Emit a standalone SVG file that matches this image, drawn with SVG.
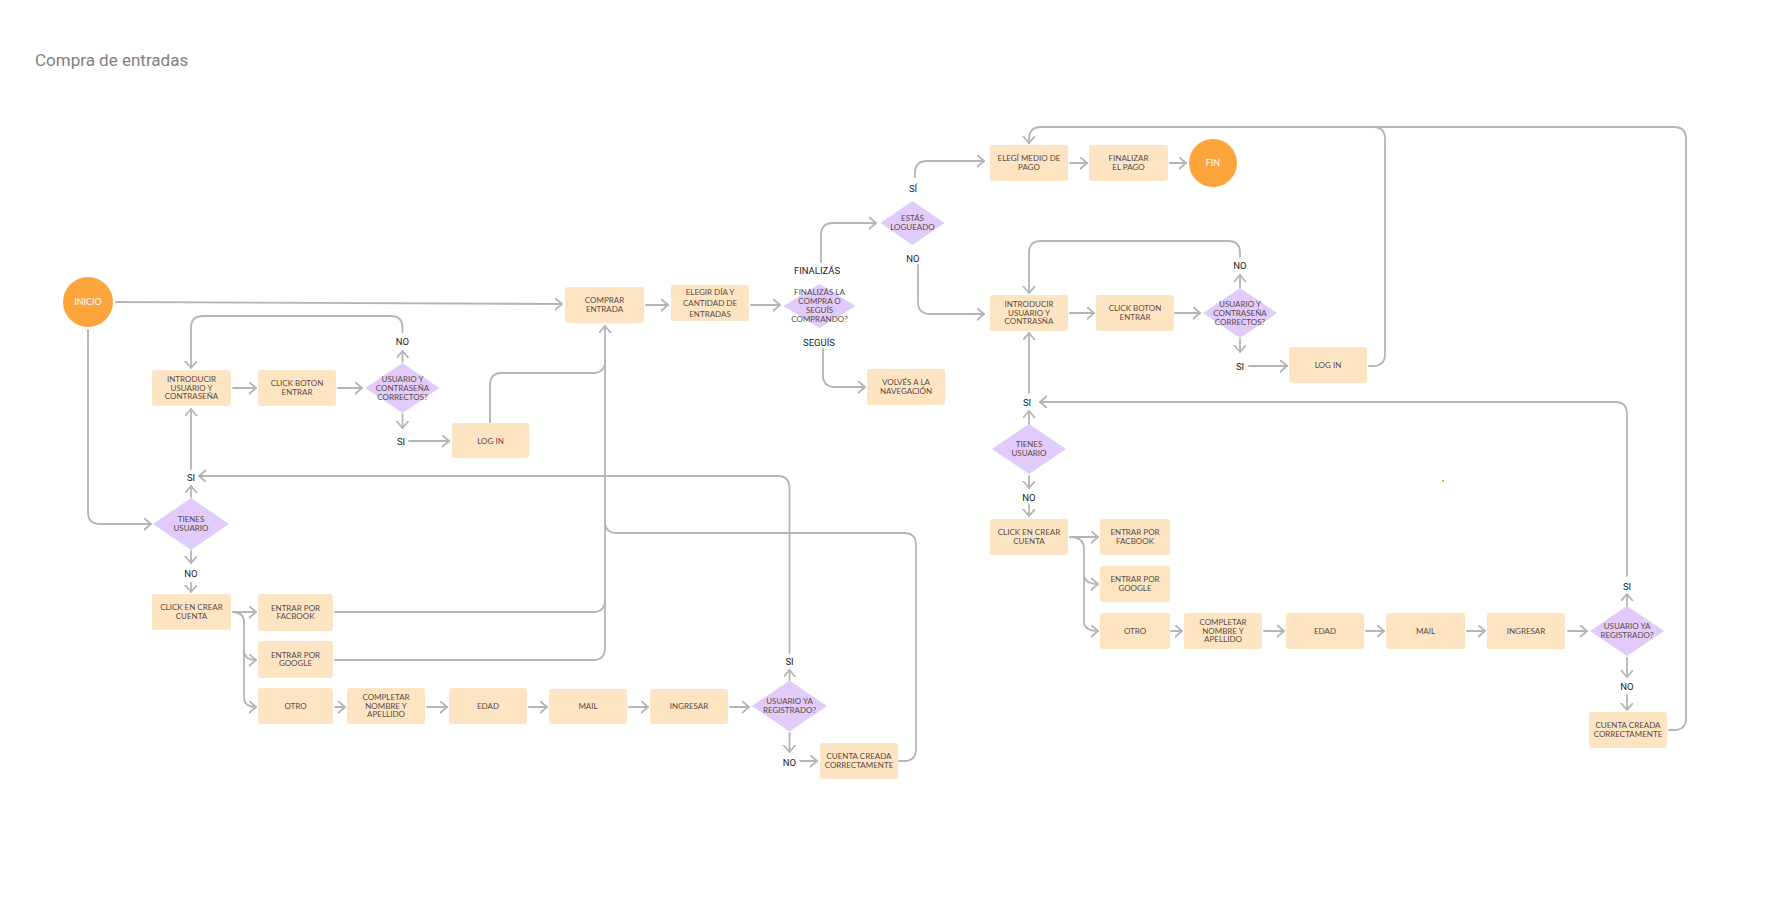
<svg xmlns="http://www.w3.org/2000/svg" width="1786" height="905" viewBox="0 0 1786 905">
<style>
.bg{fill:#ffffff}
.box{fill:#fde5c4}
.dia{fill:#e0cbfb}
.circ{fill:#fca53c}
.t{font-family:Lato,"Liberation Sans",sans-serif;font-size:8px;fill:#5c4b42;text-anchor:middle}
.tw{font-family:Lato,"Liberation Sans",sans-serif;font-size:9px;fill:#ffffff;text-anchor:middle}
.lbl{font-family:Roboto,"Liberation Sans",sans-serif;font-size:9.5px;fill:#222222;text-anchor:middle}
.title{font-family:Roboto,"Liberation Sans",sans-serif;font-size:17px;fill:#808080}
.ln{fill:none;stroke:#b5b5b5;stroke-width:1.8;stroke-linejoin:round;stroke-linecap:round}
.ar{marker-end:url(#arr)}
</style>
<defs>
<marker id="arr" markerUnits="userSpaceOnUse" markerWidth="12" markerHeight="14" refX="7" refY="6" orient="auto" viewBox="0 0 12 14">
<path d="M0,0 L7,6 L0,12" fill="none" stroke="#b5b5b5" stroke-width="1.8" stroke-linecap="round" stroke-linejoin="round"/>
</marker>
</defs>
<rect class="bg" x="0" y="0" width="1786" height="905"/>
<text class="title" x="35" y="66">Compra de entradas</text>

<g id="connectors">
<path class="ln ar" d="M116,302 L562,304"/>
<path class="ln ar" d="M88,330 L88,512 Q88,524 100,524 L151,524"/>
<path class="ln ar" d="M191,497 L191,486"/>
<path class="ln ar" d="M191,469 L191,409"/>
<path class="ln ar" d="M233,388 L256,388"/>
<path class="ln ar" d="M338,388 L362,388"/>
<path class="ln ar" d="M402.5,362 L402.5,351"/>
<path class="ln ar" d="M402.5,332 L402.5,328 Q402.5,316 390.5,316 L203,316 Q191,316 191,328 L191,368"/>
<path class="ln ar" d="M402.5,414 L402.5,428"/>
<path class="ln ar" d="M409,441 L449,441"/>
<path class="ln ar" d="M490,423 L490,385 Q490,373 502,373 L593,373 Q605,373 605,361 L605,326"/>
<path class="ln" d="M335,612 L593,612 Q605,612 605,600 L605,360"/>
<path class="ln" d="M335,660 L593,660 Q605,660 605,648 L605,600"/>
<path class="ln" d="M899,761 L904,761 Q916,761 916,749 L916,545 Q916,533 904,533 L617,533 Q605,533 605,521"/>
<path class="ln ar" d="M191,551 L191,563"/>
<path class="ln ar" d="M191,583 L191,592"/>
<path class="ln ar" d="M233,612 L256,612"/>
<path class="ln ar" d="M233,612 Q244,612 244,623 L244,650 Q244,660 256,660"/>
<path class="ln ar" d="M244,650 L244,697 Q244,707 256,707"/>
<path class="ln ar" d="M335,707 L345,707"/>
<path class="ln ar" d="M427,707 L447,707"/>
<path class="ln ar" d="M529,707 L547,707"/>
<path class="ln ar" d="M629,707 L648,707"/>
<path class="ln ar" d="M730,707 L749,707"/>
<path class="ln ar" d="M789.5,681 L789.5,670"/>
<path class="ln ar" d="M789.5,653 L789.5,488 Q789.5,476 777.5,476 L199,476"/>
<path class="ln ar" d="M789.5,733 L789.5,752"/>
<path class="ln ar" d="M800,761 L817,761"/>
<path class="ln ar" d="M646,305 L668,305"/>
<path class="ln ar" d="M751,305 L780,305"/>
<path class="ln ar" d="M821,262 L821,235 Q821,223 833,223 L876,223"/>
<path class="ln ar" d="M823,349 L823,375 Q823,387 835,387 L865,387"/>
<path class="ln ar" d="M915,177 L915,173 Q915,161 927,161 L984,161"/>
<path class="ln ar" d="M918,265 L918,302 Q918,314 930,314 L984,314"/>
<path class="ln ar" d="M1070,163 L1087,163"/>
<path class="ln ar" d="M1170,163 L1186,163"/>
<path class="ln ar" d="M1070,313 L1094,313"/>
<path class="ln ar" d="M1175,313 L1200,313"/>
<path class="ln ar" d="M1240,288 L1240,275"/>
<path class="ln ar" d="M1240,257 L1240,253 Q1240,241 1228,241 L1041,241 Q1029,241 1029,253 L1029,293"/>
<path class="ln ar" d="M1240,339 L1240,352"/>
<path class="ln ar" d="M1249,366 L1287,366"/>
<path class="ln" d="M1369,366 L1373,366 Q1385,366 1385,354 L1385,139 Q1385,127 1373,127"/>
<path class="ln ar" d="M1669,730 L1674,730 Q1686,730 1686,718 L1686,139 Q1686,127 1674,127 L1041,127 Q1029,127 1029,139 L1029,143"/>
<path class="ln ar" d="M1029,393 L1029,333"/>
<path class="ln ar" d="M1029,424 L1029,411"/>
<path class="ln ar" d="M1627,576 L1627,414 Q1627,402 1615,402 L1040,402"/>
<path class="ln ar" d="M1627,606 L1627,594"/>
<path class="ln ar" d="M1627,658 L1627,677"/>
<path class="ln ar" d="M1627,695 L1627,710"/>
<path class="ln ar" d="M1029,476 L1029,488"/>
<path class="ln ar" d="M1029,505 L1029,516"/>
<path class="ln ar" d="M1070,537 L1098,537"/>
<path class="ln ar" d="M1070,537 Q1084,537 1084,549 L1084,574 Q1084,584 1098,584"/>
<path class="ln ar" d="M1084,574 L1084,621 Q1084,631 1098,631"/>
<path class="ln ar" d="M1171,631 L1182,631"/>
<path class="ln ar" d="M1264,631 L1284,631"/>
<path class="ln ar" d="M1366,631 L1384,631"/>
<path class="ln ar" d="M1467,631 L1485,631"/>
<path class="ln ar" d="M1568,631 L1587,631"/>
</g>

<g id="edge-labels">
<text class="lbl" x="402.5" y="344.5">NO</text>
<text class="lbl" x="401" y="444.5">SI</text>
<text class="lbl" x="191" y="480.5">SI</text>
<text class="lbl" x="191" y="576.5">NO</text>
<text class="lbl" x="789.5" y="664.5">SI</text>
<text class="lbl" x="789.5" y="765.5">NO</text>
<text class="lbl" x="817" y="273.5">FINALIZÁS</text>
<text class="lbl" x="819" y="345.5">SEGUÍS</text>
<text class="lbl" x="913" y="191.5">SÍ</text>
<text class="lbl" x="913" y="261.5">NO</text>
<text class="lbl" x="1240" y="268.5">NO</text>
<text class="lbl" x="1240" y="369.5">SI</text>
<text class="lbl" x="1027" y="405.5">SI</text>
<text class="lbl" x="1029" y="500.5">NO</text>
<text class="lbl" x="1627" y="589.5">SI</text>
<text class="lbl" x="1627" y="689.5">NO</text>
</g>

<g id="inicio"><circle class="circ" cx="88" cy="302" r="25"/><text class="tw" x="88" y="305">INICIO</text></g>
<g id="comprar-entrada"><rect class="box" x="565" y="287" width="79" height="36" rx="3"/><text class="t" x="604.5" y="303">COMPRAR</text><text class="t" x="604.5" y="311.5">ENTRADA</text></g>
<g id="elegir-dia"><rect class="box" x="671" y="285" width="78" height="36" rx="3"/><text class="t" x="710" y="295">ELEGIR DÍA Y</text><text class="t" x="710" y="306">CANTIDAD DE</text><text class="t" x="710" y="317">ENTRADAS</text></g>
<g id="finalizas-dec"><polygon class="dia" points="819.5,284 855.5,306 819.5,328 783.5,306"/><text class="t" x="819.5" y="295">FINALIZÁS LA</text><text class="t" x="819.5" y="304">COMPRA O</text><text class="t" x="819.5" y="313">SEGUÍS</text><text class="t" x="819.5" y="322">COMPRANDO?</text></g>
<g id="volves"><rect class="box" x="867" y="369" width="78" height="36" rx="3"/><text class="t" x="906" y="385">VOLVÉS A LA</text><text class="t" x="906" y="393.5">NAVEGACIÓN</text></g>
<g id="estas-logueado"><polygon class="dia" points="912.5,201 944.5,223 912.5,245 880.5,223"/><text class="t" x="912.5" y="221">ESTÁS</text><text class="t" x="912.5" y="230">LOGUEADO</text></g>
<g id="elegi-medio"><rect class="box" x="990" y="145" width="78" height="36" rx="3"/><text class="t" x="1029" y="161">ELEGÍ MEDIO DE</text><text class="t" x="1029" y="169.5">PAGO</text></g>
<g id="finalizar-pago"><rect class="box" x="1089" y="145" width="79" height="36" rx="3"/><text class="t" x="1128.5" y="161">FINALIZAR</text><text class="t" x="1128.5" y="169.5">EL PAGO</text></g>
<g id="fin"><circle class="circ" cx="1213" cy="163" r="24"/><text class="tw" x="1213" y="166">FIN</text></g>

<g id="introducir-l"><rect class="box" x="152" y="370" width="79" height="36" rx="3"/><text class="t" x="191.5" y="382">INTRODUCIR</text><text class="t" x="191.5" y="390.5">USUARIO Y</text><text class="t" x="191.5" y="399">CONTRASEÑA</text></g>
<g id="click-boton-l"><rect class="box" x="258" y="370" width="78" height="36" rx="3"/><text class="t" x="297" y="386">CLICK BOTON</text><text class="t" x="297" y="394.5">ENTRAR</text></g>
<g id="correctos-l"><polygon class="dia" points="402.5,363 439.5,388 402.5,413 365.5,388"/><text class="t" x="402.5" y="382">USUARIO Y</text><text class="t" x="402.5" y="391">CONTRASEÑA</text><text class="t" x="402.5" y="400">CORRECTOS?</text></g>
<g id="login-l"><rect class="box" x="452" y="423" width="77" height="35" rx="3"/><text class="t" x="490.5" y="443.5">LOG IN</text></g>
<g id="tienes-l"><polygon class="dia" points="191,498 229,524 191,550 153,524"/><text class="t" x="191" y="522">TIENES</text><text class="t" x="191" y="530.5">USUARIO</text></g>
<g id="crear-cuenta-l"><rect class="box" x="152" y="594" width="79" height="36"/><text class="t" x="191.5" y="610">CLICK EN CREAR</text><text class="t" x="191.5" y="618.5">CUENTA</text></g>
<g id="facbook-l"><rect class="box" x="258" y="594" width="75" height="37" rx="3"/><text class="t" x="295.5" y="610.5">ENTRAR POR</text><text class="t" x="295.5" y="619">FACBOOK</text></g>
<g id="google-l"><rect class="box" x="258" y="641" width="75" height="37" rx="3"/><text class="t" x="295.5" y="657.5">ENTRAR POR</text><text class="t" x="295.5" y="666">GOOGLE</text></g>
<g id="otro-l"><rect class="box" x="258" y="688" width="75" height="36" rx="3"/><text class="t" x="295.5" y="709">OTRO</text></g>
<g id="completar-l"><rect class="box" x="347" y="688" width="78" height="36" rx="3"/><text class="t" x="386" y="700">COMPLETAR</text><text class="t" x="386" y="708.5">NOMBRE Y</text><text class="t" x="386" y="717">APELLIDO</text></g>
<g id="edad-l"><rect class="box" x="449" y="688" width="78" height="36" rx="3"/><text class="t" x="488" y="709">EDAD</text></g>
<g id="mail-l"><rect class="box" x="549" y="689" width="78" height="35" rx="3"/><text class="t" x="588" y="709">MAIL</text></g>
<g id="ingresar-l"><rect class="box" x="650" y="689" width="78" height="35" rx="3"/><text class="t" x="689" y="709">INGRESAR</text></g>
<g id="registrado-l"><polygon class="dia" points="789.5,680.5 827,706 789.5,731.5 752,706"/><text class="t" x="789.5" y="704">USUARIO YA</text><text class="t" x="789.5" y="712.5">REGISTRADO?</text></g>
<g id="cuenta-creada-l"><rect class="box" x="820" y="743" width="78" height="36" rx="3"/><text class="t" x="859" y="759">CUENTA CREADA</text><text class="t" x="859" y="767.5">CORRECTAMENTE</text></g>

<g id="introducir-r"><rect class="box" x="990" y="295" width="78" height="36" rx="3"/><text class="t" x="1029" y="307">INTRODUCIR</text><text class="t" x="1029" y="315.5">USUARIO Y</text><text class="t" x="1029" y="324">CONTRASÑA</text></g>
<g id="click-boton-r"><rect class="box" x="1096" y="295" width="78" height="36" rx="3"/><text class="t" x="1135" y="311">CLICK BOTON</text><text class="t" x="1135" y="319.5">ENTRAR</text></g>
<g id="correctos-r"><polygon class="dia" points="1240,288 1277,313 1240,338 1203,313"/><text class="t" x="1240" y="307">USUARIO Y</text><text class="t" x="1240" y="316">CONTRASEÑA</text><text class="t" x="1240" y="325">CORRECTOS?</text></g>
<g id="login-r"><rect class="box" x="1289" y="347" width="78" height="36" rx="3"/><text class="t" x="1328" y="368">LOG IN</text></g>
<g id="tienes-r"><polygon class="dia" points="1029,424 1066,449 1029,474 992,449"/><text class="t" x="1029" y="447">TIENES</text><text class="t" x="1029" y="455.5">USUARIO</text></g>
<g id="crear-cuenta-r"><rect class="box" x="990" y="519" width="78" height="36" rx="3"/><text class="t" x="1029" y="535">CLICK EN CREAR</text><text class="t" x="1029" y="543.5">CUENTA</text></g>
<g id="facbook-r"><rect class="box" x="1100" y="519" width="70" height="36" rx="3"/><text class="t" x="1135" y="535">ENTRAR POR</text><text class="t" x="1135" y="543.5">FACBOOK</text></g>
<g id="google-r"><rect class="box" x="1100" y="566" width="70" height="36" rx="3"/><text class="t" x="1135" y="582">ENTRAR POR</text><text class="t" x="1135" y="590.5">GOOGLE</text></g>
<g id="otro-r"><rect class="box" x="1100" y="613" width="70" height="36" rx="3"/><text class="t" x="1135" y="634">OTRO</text></g>
<g id="completar-r"><rect class="box" x="1184" y="613" width="78" height="36" rx="3"/><text class="t" x="1223" y="625">COMPLETAR</text><text class="t" x="1223" y="633.5">NOMBRE Y</text><text class="t" x="1223" y="642">APELLIDO</text></g>
<g id="edad-r"><rect class="box" x="1286" y="613" width="78" height="36" rx="3"/><text class="t" x="1325" y="634">EDAD</text></g>
<g id="mail-r"><rect class="box" x="1386" y="613" width="79" height="36" rx="3"/><text class="t" x="1425.5" y="634">MAIL</text></g>
<g id="ingresar-r"><rect class="box" x="1487" y="613" width="78" height="36" rx="3"/><text class="t" x="1526" y="634">INGRESAR</text></g>
<g id="registrado-r"><polygon class="dia" points="1627,606 1664,631 1627,656 1590,631"/><text class="t" x="1627" y="629">USUARIO YA</text><text class="t" x="1627" y="637.5">REGISTRADO?</text></g>
<g id="cuenta-creada-r"><rect class="box" x="1589" y="712" width="78" height="36" rx="3"/><text class="t" x="1628" y="728">CUENTA CREADA</text><text class="t" x="1628" y="736.5">CORRECTAMENTE</text></g>
<rect x="1442" y="480" width="2" height="2" fill="#fca53c"/>
</svg>
